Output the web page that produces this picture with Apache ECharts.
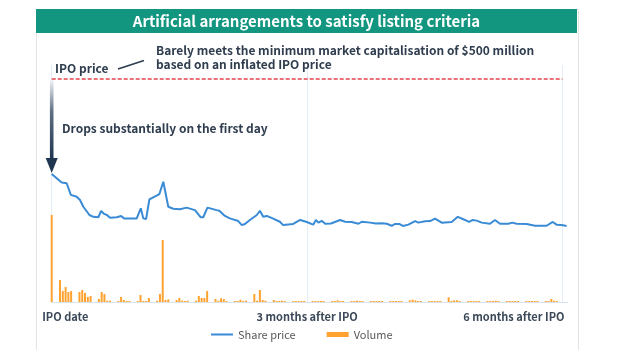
<!DOCTYPE html>
<html>
<head>
<meta charset="utf-8">
<script src="https://cdn.jsdelivr.net/npm/echarts@6/dist/echarts.min.js"></script>
<style>
  html, body { margin: 0; padding: 0; background: #fff; }
  #chart { width: 640px; height: 350px; }
</style>
</head>
<body>
<div id="chart"></div>
<script>
const FONT = '"Noto Sans CJK KR", "Noto Sans", sans-serif';

// x axis is calendar days after listing
const tickDays = [0, 92, 184];
const tickLabels = ['IPO date', '3 months after IPO', '6 months after IPO'];
const ipoPrice = 100; // share price indexed to IPO price = 100

const priceDays = [
  0, 3.6, 5.4, 6.9, 9.0, 10.2, 11.4, 13.6, 15.0, 16.8,
  17.8, 18.9, 19.9, 21.0, 23.4, 25.0, 26.2, 28.2, 30.6, 32.1,
  33.0, 34.0, 35.2, 38.8, 40.2, 42.0, 43.8, 46.2, 48.6, 51.6,
  53.7, 54.6, 56.1, 59.4, 60.4, 62.4, 64.2, 67.2, 68.5, 69.6,
  71.4, 73.9, 75.0, 76.2, 77.5, 79.8, 82.2, 83.4, 87.0, 89.5,
  91.9, 94.2, 95.2, 96.1, 97.3, 98.5, 100.6, 103.9, 105.7, 108.1,
  110.5, 111.7, 114.7, 116.8, 118.9, 120.7, 122.5, 123.7, 125.2, 126.5,
  128.5, 130.9, 132.1, 134.5, 136.3, 138.1, 140.5, 144.1, 146.3, 148.3,
  150.4, 151.7, 153.1, 154.9, 157.9, 159.7, 161.5, 164.5, 165.9, 167.5,
  171.1, 174.1, 178.3, 180.5, 181.9, 183.7, 185.5
];
const priceValues = [
  57.2, 53.4, 53.1, 47.9, 47.1, 45.6, 42.6, 38.9, 38.1, 37.9,
  40.7, 39.4, 38.9, 37.7, 37.9, 38.5, 37.3, 37.4, 37.3, 41.9,
  37.4, 37.1, 45.9, 48.3, 53.8, 42.6, 41.7, 41.5, 42.2, 41.1,
  37.9, 37.9, 42.2, 41.1, 40.8, 38.5, 37.4, 36.2, 34.4, 34.9,
  36.7, 38.9, 40.8, 38.1, 38.5, 37.3, 35.9, 34.4, 34.9, 36.7,
  35.8, 34.6, 36.7, 35.5, 36.3, 35.0, 35.1, 36.7, 35.9, 35.8,
  35.0, 35.9, 35.5, 35.1, 35.2, 35.0, 34.1, 34.9, 34.9, 34.0,
  34.6, 36.2, 35.5, 36.1, 36.2, 37.3, 35.5, 35.8, 38.1, 37.0,
  35.8, 36.7, 36.4, 35.5, 35.0, 36.7, 35.0, 35.0, 35.5, 35.0,
  34.9, 34.1, 34.1, 35.8, 34.6, 34.4, 34.0
];

// trading days only (weekends empty)
const volumeDays = [
  0,
  3, 4, 5, 6, 7,
  10, 11, 12, 13, 14,
  17, 18, 19, 20, 21,
  24, 25, 26, 27, 28,
  31, 32, 33, 34, 35,
  38, 39, 40, 41, 42,
  45, 46, 47, 48, 49,
  52, 53, 54, 55, 56,
  59, 60, 61, 62, 63,
  66, 67, 68, 69, 70,
  73, 74, 75, 76, 77,
  80, 81, 82, 83, 84,
  87, 88, 89, 90, 91,
  94, 95, 96, 97, 98,
  101, 102, 103, 104, 105,
  108, 109, 110, 111, 112,
  115, 116, 117, 118, 119,
  122, 123, 124, 125, 126,
  129, 130, 131, 132, 133,
  136, 137, 138, 139, 140,
  143, 144, 145, 146, 147,
  150, 151, 152, 153, 154,
  157, 158, 159, 160, 161,
  164, 165, 166, 167, 168,
  171, 172, 173, 174, 175,
  178, 179, 180, 181, 182
];
const volumeValues = [
  87,
  22, 11, 15, 10, 11,
  10, 12, 9, 5, 6,
  3, 10, 8, 1.3, 1.3,
  1, 5, 2, 1, 1,
  1, 7, 1, 1, 4,
  1.3, 8, 62, 2, 2.7,
  2, 4, 1.3, 1, 1.3,
  1.3, 6, 4, 4, 11,
  3, 1.3, 3.7, 3, 1,
  1, 1, 2.3, 1, 1.3,
  8, 1.3, 12, 2, 1.3,
  2, 1, 1, 1.3, 1,
  1, 1, 1, 1, 1,
  1, 1, 1, 1, 1,
  1, 1, 1.7, 1, 1,
  1, 1, 1.3, 1, 1,
  1, 1, 1, 1, 1,
  1, 1, 1, 1, 1,
  1.7, 2.3, 1.7, 1, 1,
  1, 1, 1, 1, 1,
  4.7, 1, 1.7, 1.7, 1,
  1, 1, 1, 1, 1,
  1, 1, 1, 1.3, 1,
  1, 1, 1, 1, 1,
  1, 1, 1, 1, 1,
  1, 1, 3, 1.3, 1
];

const LABEL_COLOR = '#3a4858';
const LABEL_SIZE = 11;

// text width, used to push the first/last tick label to the side like the original
const measure = document.createElement('canvas').getContext('2d');
function textWidth(s) {
  measure.font = 'bold ' + LABEL_SIZE + 'px ' + FONT;
  return measure.measureText(s).width;
}
const wFirst = textWidth(tickLabels[0]);
const wLast = textWidth(tickLabels[2]);

const chart = echarts.init(document.getElementById('chart'));

const option = {
  animation: false,
  backgroundColor: '#fff',
  grid: { left: 51.7, right: 72, top: 65, bottom: 48 },
  legend: {
    left: 206,
    top: 324,
    itemWidth: 22,
    itemHeight: 5,
    itemGap: 31,
    symbolKeepAspect: true,
    textStyle: { color: '#595959', fontSize: 11, fontFamily: FONT },
    data: [
      { name: 'Share price', icon: 'path://M0,0H22V2H0Z' },
      { name: 'Volume', icon: 'rect' }
    ]
  },
  xAxis: {
    type: 'value',
    min: 0,
    max: 186,
    axisLine: { show: true, lineStyle: { color: '#d8e2ec', width: 1 } },
    axisTick: { show: false, customValues: tickDays },
    splitLine: { show: true, lineStyle: { color: '#e4edf7', width: 1 } },
    axisLabel: {
      customValues: tickDays,
      margin: 9,
      formatter: v => {
        const i = tickDays.indexOf(v);
        if (i === 0) return '{first|' + tickLabels[0] + '}';
        if (i === 2) return '{last|' + tickLabels[2] + '}';
        return i < 0 ? '' : tickLabels[i];
      },
      color: LABEL_COLOR,
      fontSize: LABEL_SIZE,
      fontWeight: 'bold',
      fontFamily: FONT,
      rich: {
        first: {
          color: LABEL_COLOR, fontSize: LABEL_SIZE, fontWeight: 'bold', fontFamily: FONT,
          padding: [0, 0, 0, Math.max(0, wFirst - 19)]
        },
        last: {
          color: LABEL_COLOR, fontSize: LABEL_SIZE, fontWeight: 'bold', fontFamily: FONT,
          padding: [0, wLast - 4, 0, 0]
        }
      }
    }
  },
  yAxis: [
    { type: 'value', min: 0, max: 106, show: false, splitLine: { show: false } },
    { type: 'value', min: 0, max: 237, show: false, splitLine: { show: false } }
  ],
  series: [
    {
      name: 'Volume',
      type: 'bar',
      yAxisIndex: 1,
      barWidth: 2,
      itemStyle: { color: '#ffa22f' },
      data: volumeDays.map((d, i) => [d, volumeValues[i]])
    },
    {
      name: 'Share price',
      type: 'line',
      yAxisIndex: 0,
      symbol: 'none',
      z: 5,
      lineStyle: { color: '#3a8bd6', width: 2 },
      itemStyle: { color: '#3a8bd6' },
      data: priceDays.map((d, i) => [d, priceValues[i]]),
      markLine: {
        silent: true,
        symbol: 'none',
        label: { show: false },
        lineStyle: { color: '#e5434b', type: [4, 2], width: 1.6 },
        data: [[{ coord: [0, ipoPrice] }, { coord: [tickDays[2], ipoPrice] }]]
      }
    }
  ]
};

chart.setOption(option);

// annotations, anchored on the first-day price and the IPO price line
const start = chart.convertToPixel({ xAxisIndex: 0, yAxisIndex: 0 }, [0, priceValues[0]]);
const ipoY = chart.convertToPixel({ xAxisIndex: 0, yAxisIndex: 0 }, [0, ipoPrice])[1];
const ax = start[0];
const tipY = start[1] - 1;
const headH = 15;

const annoStyle = { fill: '#2f3d4f', fontSize: 12, fontWeight: 'bold', fontFamily: FONT, verticalAlign: 'middle' };

chart.setOption({
  graphic: [
    {
      type: 'rect', z: -10, silent: true,
      shape: { x: 36.5, y: 9.5, width: 542, height: 360 },
      style: { fill: '#fff', stroke: '#e3e3e3', lineWidth: 1 }
    },
    {
      type: 'rect', z: -9, silent: true,
      shape: { x: 36, y: 9, width: 541, height: 24 },
      style: { fill: '#12967f' }
    },
    {
      type: 'text', silent: true, x: 306.5, y: 21,
      style: {
        text: 'Artificial arrangements to satisfy listing criteria',
        fill: '#fff', fontSize: 15, fontWeight: 'bold', fontFamily: FONT,
        align: 'center', verticalAlign: 'middle'
      }
    },
    { type: 'text', silent: true, x: 55, y: 68, style: Object.assign({ text: 'IPO price' }, annoStyle) },
    {
      type: 'line', silent: true,
      shape: { x1: 118, y1: 69, x2: 144, y2: 60.5 },
      style: { stroke: '#2f3d4f', lineWidth: 1.6 }
    },
    {
      type: 'text', silent: true, x: 156, y: 50.5,
      style: Object.assign({ text: 'Barely meets the minimum market capitalisation of $500 million' }, annoStyle)
    },
    {
      type: 'text', silent: true, x: 156, y: 64.5,
      style: Object.assign({ text: 'based on an inflated IPO price' }, annoStyle)
    },
    {
      type: 'text', silent: true, x: 62, y: 128,
      style: Object.assign({ text: 'Drops substantially on the first day' }, annoStyle)
    },
    {
      type: 'rect', silent: true, z: 10,
      shape: { x: ax - 1.8, y: ipoY + 2, width: 3.6, height: tipY - headH - ipoY - 1 },
      style: {
        fill: new echarts.graphic.LinearGradient(0, 0, 0, 1, [
          { offset: 0, color: '#eef1f5' },
          { offset: 0.4, color: '#5d6f84' },
          { offset: 1, color: '#1f3550' }
        ])
      }
    },
    {
      type: 'polygon', silent: true, z: 10,
      shape: { points: [[ax - 6, tipY - headH], [ax + 6, tipY - headH], [ax, tipY]] },
      style: { fill: '#1f3550' }
    }
  ]
});
</script>
</body>
</html>
